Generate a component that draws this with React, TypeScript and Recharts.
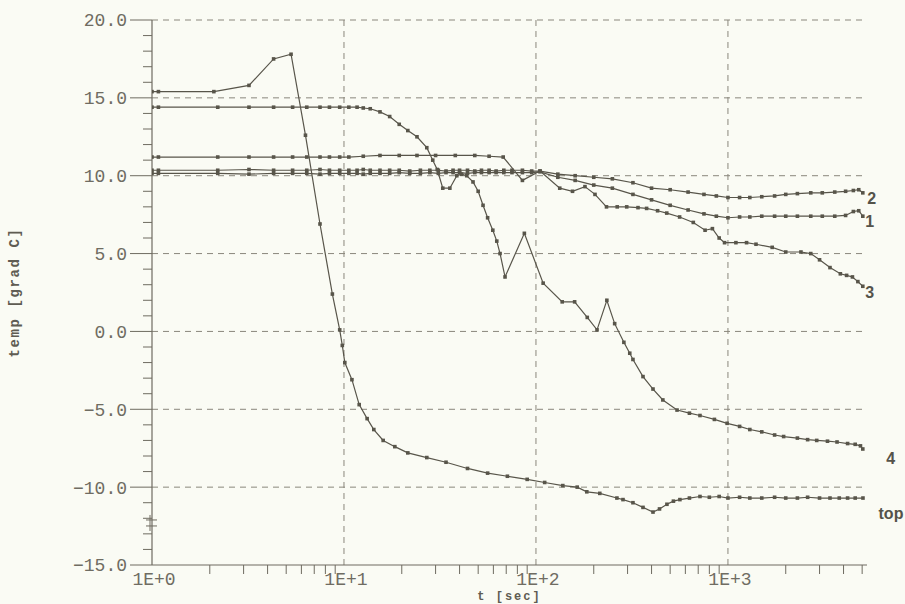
import React from "react";
import { LineChart, Line, XAxis, YAxis, ReferenceLine, ReferenceDot } from "recharts";

// Messwerte: t [sec], temp [grad C]
const topT = [1, 1.08, 2.1, 3.2, 4.3, 5.3, 6.3, 7.5, 8.7, 9.5, 9.8, 10.1, 11, 12, 13.2, 14.3, 16, 18.4, 21.5, 27, 34, 44, 56, 71, 90, 111, 138, 164, 184, 215, 264, 284, 320, 361, 407, 440, 481, 520, 562, 630, 715, 800, 900, 1000, 1150, 1300, 1500, 1750, 2000, 2300, 2600, 3000, 3400, 3800, 4200, 4600, 5050];
const topV = [15.4, 15.4, 15.4, 15.8, 17.5, 17.8, 12.6, 6.9, 2.4, 0.1, -0.9, -2.0, -3.1, -4.7, -5.6, -6.3, -7.0, -7.4, -7.8, -8.1, -8.4, -8.8, -9.1, -9.3, -9.5, -9.7, -9.9, -10.0, -10.3, -10.4, -10.7, -10.8, -11.0, -11.3, -11.6, -11.4, -11.1, -10.9, -10.8, -10.7, -10.6, -10.65, -10.6, -10.7, -10.65, -10.7, -10.7, -10.65, -10.7, -10.7, -10.65, -10.7, -10.7, -10.7, -10.7, -10.7, -10.7];

const c4T = [1, 1.08, 2.2, 3.2, 4.3, 5.4, 6.4, 7.5, 8.4, 9.5, 10.6, 11.7, 12.6, 13.7, 15.4, 17.3, 19.4, 21.5, 24, 27, 29, 30.6, 32.7, 35.6, 38.7, 41, 43.6, 47, 50, 53, 56, 59.6, 62.5, 65, 69, 87, 109, 137, 159, 185, 208, 234, 257, 287, 308, 320, 361, 407, 458, 543, 630, 715, 850, 990, 1150, 1300, 1500, 1750, 1950, 2300, 2600, 2900, 3300, 3700, 4200, 4600, 4900, 5040];
const c4V = [14.4, 14.4, 14.4, 14.4, 14.4, 14.4, 14.4, 14.4, 14.4, 14.4, 14.4, 14.4, 14.35, 14.3, 14.1, 13.8, 13.3, 12.9, 12.5, 11.8, 11.0, 10.4, 9.2, 9.2, 10.0, 10.1, 10.0, 9.6, 9.0, 8.1, 7.3, 6.5, 5.8, 5.0, 3.5, 6.3, 3.1, 1.9, 1.9, 0.9, 0.1, 2.0, 0.5, -0.7, -1.4, -1.8, -2.9, -3.7, -4.4, -5.05, -5.25, -5.4, -5.65, -5.9, -6.1, -6.3, -6.45, -6.65, -6.75, -6.85, -6.95, -7.0, -7.05, -7.1, -7.2, -7.25, -7.35, -7.55];

const c3T = [1, 1.08, 2.2, 3.2, 4.3, 5.4, 6.4, 7.5, 8.4, 9.5, 10.6, 12.6, 15.4, 19.4, 24, 30, 38, 48, 57, 67.5, 85, 105, 133, 155, 180, 203, 233, 265, 297, 340, 377, 430, 480, 560, 660, 760, 830, 900, 960, 1100, 1250, 1400, 1700, 2000, 2400, 2700, 3000, 3400, 3850, 4150, 4450, 4750, 5040];
const c3V = [11.2, 11.2, 11.2, 11.2, 11.2, 11.2, 11.2, 11.2, 11.2, 11.2, 11.2, 11.25, 11.3, 11.3, 11.3, 11.3, 11.3, 11.3, 11.25, 11.2, 9.7, 10.3, 9.2, 9.0, 9.3, 8.8, 8.0, 8.0, 8.0, 7.95, 7.9, 7.75, 7.6, 7.35, 7.0, 6.5, 6.6, 6.0, 5.7, 5.7, 5.7, 5.6, 5.4, 5.1, 5.1, 5.0, 4.6, 4.1, 3.7, 3.6, 3.5, 3.2, 2.9];

const c2T = [1, 1.08, 2.2, 3.2, 4.3, 5.4, 6.4, 7.5, 8.4, 9.5, 10.6, 11.7, 12.6, 13.7, 15.4, 17.3, 19.4, 22, 25, 28, 31, 34, 37, 40, 44, 48, 52, 57, 62, 68, 75, 85, 95, 105, 130, 160, 200, 250, 320, 400, 500, 620, 750, 870, 1000, 1150, 1300, 1500, 1750, 2000, 2300, 2700, 3100, 3600, 4100, 4500, 4800, 5040];
const c2V = [10.35, 10.35, 10.35, 10.4, 10.35, 10.35, 10.35, 10.4, 10.35, 10.35, 10.35, 10.35, 10.4, 10.35, 10.35, 10.35, 10.35, 10.3, 10.35, 10.35, 10.35, 10.3, 10.35, 10.35, 10.35, 10.3, 10.35, 10.35, 10.3, 10.35, 10.35, 10.35, 10.3, 10.3, 10.1, 10.0, 9.9, 9.8, 9.55, 9.2, 9.1, 8.95, 8.8, 8.7, 8.6, 8.6, 8.6, 8.65, 8.7, 8.8, 8.85, 8.9, 8.9, 8.95, 9.0, 9.05, 9.1, 8.9];

const c1T = [1, 1.08, 2.2, 3.2, 4.3, 5.4, 6.4, 7.5, 8.4, 9.5, 10.6, 11.7, 12.6, 13.7, 15.4, 17.3, 19.4, 22, 25, 28, 31, 34, 37, 40, 44, 48, 52, 57, 62, 68, 75, 85, 95, 105, 130, 160, 200, 250, 320, 400, 500, 620, 750, 870, 1000, 1150, 1300, 1500, 1750, 2000, 2300, 2700, 3100, 3600, 4100, 4500, 4800, 5040];
const c1V = [10.15, 10.15, 10.15, 10.1, 10.15, 10.15, 10.15, 10.1, 10.15, 10.15, 10.15, 10.15, 10.1, 10.15, 10.15, 10.15, 10.2, 10.15, 10.15, 10.2, 10.15, 10.2, 10.2, 10.2, 10.15, 10.2, 10.2, 10.2, 10.2, 10.2, 10.2, 10.2, 10.2, 10.25, 9.9, 9.7, 9.4, 9.2, 8.8, 8.45, 8.1, 7.8, 7.55, 7.4, 7.3, 7.35, 7.35, 7.4, 7.4, 7.4, 7.4, 7.4, 7.4, 7.4, 7.45, 7.7, 7.75, 7.4];

// Achsen
const xTicks = [1, 2, 3, 4, 5, 6, 7, 8, 9, 10, 20, 30, 40, 50, 60, 70, 80, 90, 100, 200, 300, 400, 500, 600, 700, 800, 900, 1000, 2000, 3000, 4000, 5000];
const yTicks = [-15, -14, -13, -12, -11, -10, -9, -8, -7, -6, -5, -4, -3, -2, -1, 0, 1, 2, 3, 4, 5, 6, 7, 8, 9, 10, 11, 12, 13, 14, 15, 16, 17, 18, 19, 20];
const gridY = [-10, -5, 0, 5, 10, 15, 20];
const gridX = [10, 100, 1000];
// Kreuzmarke an der y-Achse
const crossMark = { t: 1, v: -12.3 };

const BG = "#fafbf4";
const INK = "#58554a";
const AXIS = "#6e6b60";
const TEXT = "#6f6c62";
const MONO = "'Liberation Mono', 'DejaVu Sans Mono', monospace";

const series = [
  { name: "top", t: topT, v: topV, dx: 28, dy: 21 },
  { name: "4", t: c4T, v: c4V, dx: 28, dy: 15 },
  { name: "3", t: c3T, v: c3V, dx: 7, dy: 12 },
  { name: "2", t: c2T, v: c2V, dx: 9, dy: 11 },
  { name: "1", t: c1T, v: c1V, dx: 7, dy: 11 },
];

const squareDot = (p: any) => {
  if (p.cx == null || p.cy == null) return <g key={p.index} />;
  return <rect key={p.index} x={p.cx - 1.8} y={p.cy - 1.8} width={3.6} height={3.6} fill={INK} />;
};

const YTick = (props: any) => {
  const { x, y, payload } = props;
  const v = payload.value as number;
  const major = v % 5 === 0;
  const txt = (v < 0 ? "\u2212" : "") + Math.abs(v).toFixed(1);
  return (
    <g>
      <line x1={x - (major ? 22 : 9)} x2={x} y1={y} y2={y} stroke={AXIS} strokeWidth={1} />
      {major && (
        <text x={x - 25} y={y} dy="0.36em" textAnchor="end" fontFamily={MONO} fontSize={18} fill={TEXT}>
          {txt}
        </text>
      )}
    </g>
  );
};

const XTick = (props: any) => {
  const { x, y, payload } = props;
  const e = Math.log10(payload.value);
  const major = Math.abs(e - Math.round(e)) < 1e-6;
  return (
    <g>
      {!major && <line x1={x} x2={x} y1={y} y2={y + 9} stroke={AXIS} strokeWidth={1} />}
      {major && (
        <text x={x + 2} y={y + 20} textAnchor="middle" fontFamily={MONO} fontSize={18} fill={TEXT}>
          {"1E+" + Math.round(e)}
        </text>
      )}
    </g>
  );
};

const endLabel = (text: string, dx: number, dy: number) => (p: any) => {
  const vb = p.viewBox || {};
  const x = (vb.x ?? p.x) + (vb.width || 0) / 2;
  const y = (vb.y ?? p.y) + (vb.height || 0) / 2;
  return (
    <text x={x + dx} y={y + dy} textAnchor="middle" fontFamily="'Liberation Sans', Arial, sans-serif" fontWeight="bold" fontSize={16} fill="#55534a">
      {text}
    </text>
  );
};

const crossShape = (p: any) => {
  const { cx, cy } = p;
  return (
    <g stroke={AXIS} strokeWidth={1}>
      <line x1={cx - 6} x2={cx + 5} y1={cy - 3} y2={cy - 3} />
      <line x1={cx - 6} x2={cx + 5} y1={cy + 3} y2={cy + 3} />
      <line x1={cx - 2} x2={cx - 2} y1={cy - 8} y2={cy + 8} />
    </g>
  );
};

const xTitle = (p: any) => {
  const vb = p.viewBox;
  return (
    <text x={vb.x + vb.width / 2} y={vb.y + 35} textAnchor="middle" fontFamily={MONO} fontWeight="bold" fontSize={12} letterSpacing={2} fill="#5f5c52">
      t [sec]
    </text>
  );
};

const yTitle = (p: any) => {
  const vb = p.viewBox;
  const cx = vb.x + 15;
  const cy = vb.y + vb.height / 2;
  return (
    <text x={cx} y={cy} transform={`rotate(-90, ${cx}, ${cy})`} textAnchor="middle" dominantBaseline="central" fontFamily={MONO} fontWeight="bold" fontSize={14} letterSpacing={1.6} fill="#5f5c52">
      temp [grad C]
    </text>
  );
};

export default function App() {
  return (
    <div style={{ position: "fixed", left: 0, top: 0, width: 905, height: 604, background: BG }}>
      <LineChart width={905} height={604} margin={{ top: 20, right: 38, bottom: 0, left: 0 }}>
        <XAxis
          dataKey="t"
          type="number"
          scale="log"
          domain={[1, 5300]}
          allowDataOverflow
          ticks={xTicks}
          interval={0}
          tick={<XTick />}
          tickLine={false}
          tickSize={0}
          tickMargin={0}
          height={39}
          axisLine={{ stroke: AXIS, strokeWidth: 1.2 }}
          label={{ content: xTitle }}
        />
        <YAxis
          type="number"
          domain={[-15, 20]}
          ticks={yTicks}
          interval={0}
          tick={<YTick />}
          tickLine={false}
          tickSize={0}
          tickMargin={0}
          width={152}
          axisLine={{ stroke: AXIS, strokeWidth: 1.2 }}
          label={{ content: yTitle }}
        />

        {/* gestricheltes Gitter */}
        {gridY.map((g) => (
          <ReferenceLine key={"gy" + g} y={g} stroke="#8a877c" strokeDasharray="6 5" strokeWidth={1} />
        ))}
        {gridX.map((g) => (
          <ReferenceLine key={"gx" + g} x={g} stroke="#8a877c" strokeDasharray="6 5" strokeWidth={1} />
        ))}

        {series.map((s) => (
          <Line
            key={s.name}
            data={s.t.map((t, i) => ({ t, v: s.v[i] }))}
            dataKey="v"
            type="linear"
            stroke={INK}
            strokeWidth={1.2}
            dot={squareDot}
            activeDot={false}
            isAnimationActive={false}
          />
        ))}

        {series.map((s) => (
          <ReferenceDot
            key={"lbl" + s.name}
            x={s.t[s.t.length - 1]}
            y={s.v[s.v.length - 1]}
            r={0}
            fill="none"
            stroke="none"
            label={endLabel(s.name, s.dx, s.dy)}
          />
        ))}

        <ReferenceDot x={crossMark.t} y={crossMark.v} r={4} shape={crossShape} />
      </LineChart>
    </div>
  );
}
